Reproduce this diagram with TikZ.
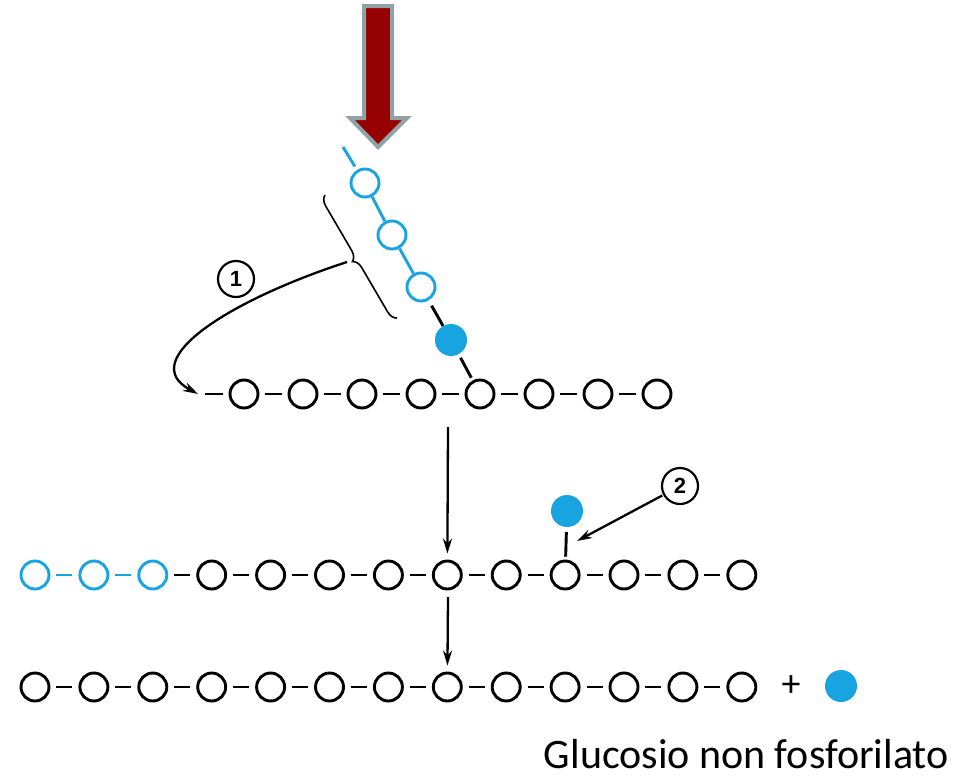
\documentclass[tikz,border=0pt]{standalone}
\usepackage{fontspec}
\setmainfont{Carlito}
\newfontfamily\numfont{Liberation Sans}
\usetikzlibrary{arrows.meta,decorations.pathreplacing}
\definecolor{glcblue}{RGB}{24,164,224}
\definecolor{arrred}{RGB}{150,0,0}
\definecolor{arrgray}{RGB}{143,163,166}
\begin{document}
\begin{tikzpicture}[x=1pt,y=-1pt,
  glc/.style={circle,draw=black,line width=2.9pt,minimum size=28pt,inner sep=0pt},
  glcb/.style={glc,draw=glcblue},
  glcf/.style={circle,fill=glcblue,draw=none,minimum size=32pt,inner sep=0pt},
  bond/.style={line width=2.9pt,shorten >=6pt,shorten <=6pt},
  bondb/.style={bond,draw=glcblue},
  numc/.style={circle,draw=black,line width=2.2pt,minimum size=36pt,inner sep=0pt,font=\numfont\bfseries\fontsize{22}{22}\selectfont},
  arr/.style={line width=2.3pt,-{Stealth[length=15pt,width=9pt]}}
]
\useasboundingbox (0,0) rectangle (955,779);

% big top arrow
\draw[arrgray,line width=4pt,fill=arrred,line join=miter]
  (364,6) -- (392,6) -- (392,118) -- (407,118) -- (378,147) -- (350,118) -- (364,118) -- cycle;

% diagonal chain
\node[glcb] (d1) at (365,183) {};
\node[glcb] (d2) at (392,235) {};
\node[glcb] (d3) at (421,287) {};
\node[glcf] (df) at (451,340) {};
\coordinate (dstub) at (343,147);
\draw[glcblue,line width=2.9pt,shorten >=4pt] (dstub) -- (d1);
\draw[glcblue,line width=2.9pt] (d1) -- (d2);
\draw[glcblue,line width=2.9pt] (d2) -- (d3);

% row 1
\foreach \i in {1,...,8} {
  \node[glc] (a\i) at ({244+59*(\i-1)},394) {};
}
\foreach \i [evaluate=\i as \j using int(\i+1)] in {1,...,7} {
  \draw[bond] (a\i) -- (a\j);
}
\draw[line width=2.9pt,shorten <=6pt] (d3) -- (df);
\draw[line width=2.9pt,shorten <=4pt,shorten >=3pt] (df) -- (a5);
\coordinate (dashL) at (205,394);
\draw[line width=2.9pt,shorten >=6pt] (dashL) -- (a1);

% brace and arrow 1
\draw[line width=1.6pt,decorate,decoration={brace,amplitude=10pt}] (397,318) -- (325,195);
\coordinate (bracetip) at (347,262);
\coordinate (arr1end) at (198,394);
\draw[arr] (bracetip) .. controls (230,300) and (135,360) .. (arr1end);
\node[numc] (n1) at (236,279) {1};

% row 2
\foreach \i in {1,...,13} {
  \ifnum\i<4
    \node[glcb] (b\i) at ({35+58.9*(\i-1)},575) {};
  \else
    \node[glc] (b\i) at ({35+58.9*(\i-1)},575) {};
  \fi
}
\draw[bondb] (b1) -- (b2);
\draw[bondb] (b2) -- (b3);
\foreach \i [evaluate=\i as \j using int(\i+1)] in {3,...,12} {
  \draw[bond] (b\i) -- (b\j);
}
\node[glcf] (bf) at (567,511) {};
\draw[line width=2.9pt,shorten <=5pt,shorten >=3pt] (bf) -- (b10);
\node[numc] (n2) at (680,486) {2};
\coordinate (arr2end) at (577,541);
\draw[arr,shorten <=1pt] (n2) -- (arr2end);

% arrow row1 -> row2
\coordinate (v1) at (448,427);
\draw[arr,shorten >=6pt] (v1) -- (b8);

% row 3
\foreach \i in {1,...,13} {
  \node[glc] (c\i) at ({35+58.9*(\i-1)},687) {};
}
\foreach \i [evaluate=\i as \j using int(\i+1)] in {1,...,12} {
  \draw[bond] (c\i) -- (c\j);
}
\coordinate (v2) at (448,597);
\draw[arr,shorten >=6pt] (v2) -- (c8);
\node[font=\fontsize{38}{38}\selectfont] (plus) at (791,686) {+};
\node[glcf] (cf) at (841,686) {};

% label
\node[anchor=base east,inner sep=0pt,font=\fontsize{42}{42}\selectfont] (lab) at (949,768) {Glucosio non fosforilato};
\end{tikzpicture}
\end{document}
